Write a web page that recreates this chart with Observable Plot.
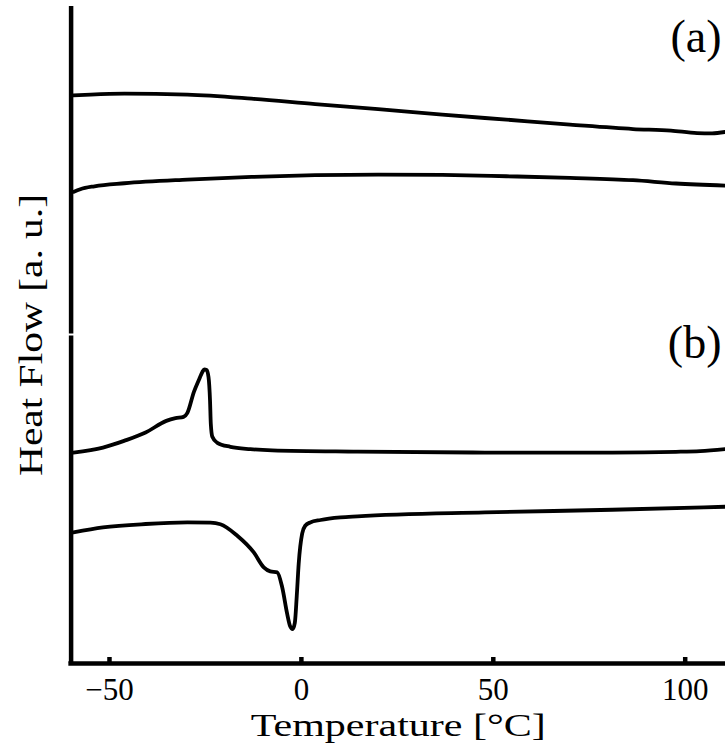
<!DOCTYPE html>
<html>
<head>
<meta charset="utf-8">
<script src="https://cdn.jsdelivr.net/npm/d3@7"></script>
<script src="https://cdn.jsdelivr.net/npm/@observablehq/plot@0.6"></script>
<style>
  html, body { margin: 0; padding: 0; background: white; }
  #chart { width: 725px; height: 752px; }
</style>
</head>
<body>
<div id="chart"></div>
<script>
// ---- Data (temperature in °C, heat flow in arbitrary units) ----
const xTicks = [-50, 0, 50, 100];

// Panel (a), upper curve
const tempA1 = [-59.4, -54.9, -46.1, -29.7, -13.0, 3.6, 20.0, 36.7, 53.4, 70.0, 86.4, 96.3, 103.1, 107.0, 110.4];
const flowA1 = [8.647, 8.660, 8.673, 8.658, 8.597, 8.515, 8.439, 8.354, 8.278, 8.202, 8.135, 8.111, 8.074, 8.070, 8.090];

// Panel (a), lower curve
const tempA2 = [-59.4, -57.6, -53.9, -46.1, -29.7, -13.0, 3.6, 20.0, 36.7, 53.4, 70.0, 86.4, 97.6, 110.4];
const flowA2 = [7.178, 7.219, 7.264, 7.310, 7.366, 7.406, 7.432, 7.442, 7.436, 7.416, 7.391, 7.356, 7.306, 7.275];

// Panel (b), upper curve (exothermic peak)
const tempB1 = [-59.4, -51.7, -46.2, -40.6, -35.2, -32.8, -30.7, -29.7, -28.0, -26.6, -25.8, -25.3, -24.7, -24.2, -23.8, -23.6, -23.2, -22.0, -18.5, -13.3, -7.6, 14.6, 47.8, 81.0, 97.6, 103.9, 110.4];
const flowB1 = [3.211, 3.287, 3.389, 3.515, 3.693, 3.734, 3.754, 3.815, 4.134, 4.331, 4.438, 4.476, 4.468, 4.362, 3.997, 3.647, 3.450, 3.363, 3.298, 3.263, 3.245, 3.226, 3.211, 3.211, 3.222, 3.233, 3.263];

// Panel (b), lower curve (endothermic dip)
const tempB2 = [-59.4, -51.7, -40.6, -29.7, -23.7, -21.1, -16.7, -12.4, -9.8, -8.1, -6.3, -5.0, -3.7, -2.9, -2.3, -1.7, -1.2, -0.7, 0.2, 1.0, 2.3, 5.0, 10.2, 14.6, 47.8, 81.0, 110.4];
const flowB2 = [1.995, 2.071, 2.123, 2.147, 2.143, 2.120, 1.945, 1.691, 1.464, 1.403, 1.388, 1.160, 0.755, 0.562, 0.524, 0.623, 1.033, 1.520, 1.976, 2.097, 2.147, 2.184, 2.223, 2.239, 2.299, 2.340, 2.386];

const panelLabels = ["(a)", "(b)"];
const panelExtents = [[0, 4.985], [5.015, 10]];
const xLabel = "Temperature [°C]";
const yLabel = "Heat Flow [a. u.]";

// ---- Build table ----
const series = [
  ["a1", tempA1, flowA1],
  ["a2", tempA2, flowA2],
  ["b1", tempB1, flowB1],
  ["b2", tempB2, flowB2]
];
const rows = series.flatMap(([id, xs, ys]) => xs.map((t, i) => ({series: id, temp: t, flow: ys[i]})));
const spines = panelExtents.map(([a, b]) => ({y1: a, y2: b}));

const font = "'Liberation Serif', 'DejaVu Serif', serif";

const chart = Plot.plot({
  width: 725,
  height: 752,
  marginLeft: 70.6,
  marginRight: 0,
  marginTop: 6,
  marginBottom: 89,
  style: {fontFamily: font, background: "white", color: "black"},
  x: {domain: [-60, 110.5]},
  y: {domain: [0, 10], axis: null},
  marks: [
    Plot.line(rows, {x: "temp", y: "flow", z: "series", curve: "monotone-x", stroke: "black", strokeWidth: 3.8}),
    Plot.ruleX(spines, {x: -60, y1: "y1", y2: "y2", stroke: "black", strokeWidth: 4.5}),
    Plot.ruleY([0], {stroke: "black", strokeWidth: 4.5, strokeLinecap: "square"}),
    Plot.axisX({
      ticks: xTicks,
      tickSize: -6,
      tickPadding: 20,
      strokeWidth: 4.5,
      fontSize: 31,
      tickFormat: d => d < 0 ? "\u2212" + Math.abs(d) : String(d),
      label: null
    }),
    Plot.text([xLabel], {frameAnchor: "bottom", textAnchor: "middle", dy: 62, lineAnchor: "middle", fontSize: 32}),
    Plot.text([yLabel], {frameAnchor: "left", textAnchor: "middle", dx: -40, rotate: -90, lineAnchor: "middle", fontSize: 33}),
    Plot.text([panelLabels[0]], {frameAnchor: "top-right", textAnchor: "end", lineAnchor: "middle", dx: -4, dy: 31, fontSize: 46}),
    Plot.text([panelLabels[1]], {x: 110.5, y: 5, textAnchor: "end", lineAnchor: "middle", dx: -4, dy: 8, fontSize: 46})
  ]
});

// Stretch the axis titles to the wider letter widths of the original typeface
const stretch = {[xLabel]: 295, [yLabel]: 282};
d3.select(chart).selectAll("text").each(function () {
  const t = this.textContent;
  if (stretch[t]) {
    d3.select(this).attr("textLength", stretch[t]).attr("lengthAdjust", "spacingAndGlyphs");
  }
});

document.getElementById("chart").appendChild(chart);
</script>
</body>
</html>
